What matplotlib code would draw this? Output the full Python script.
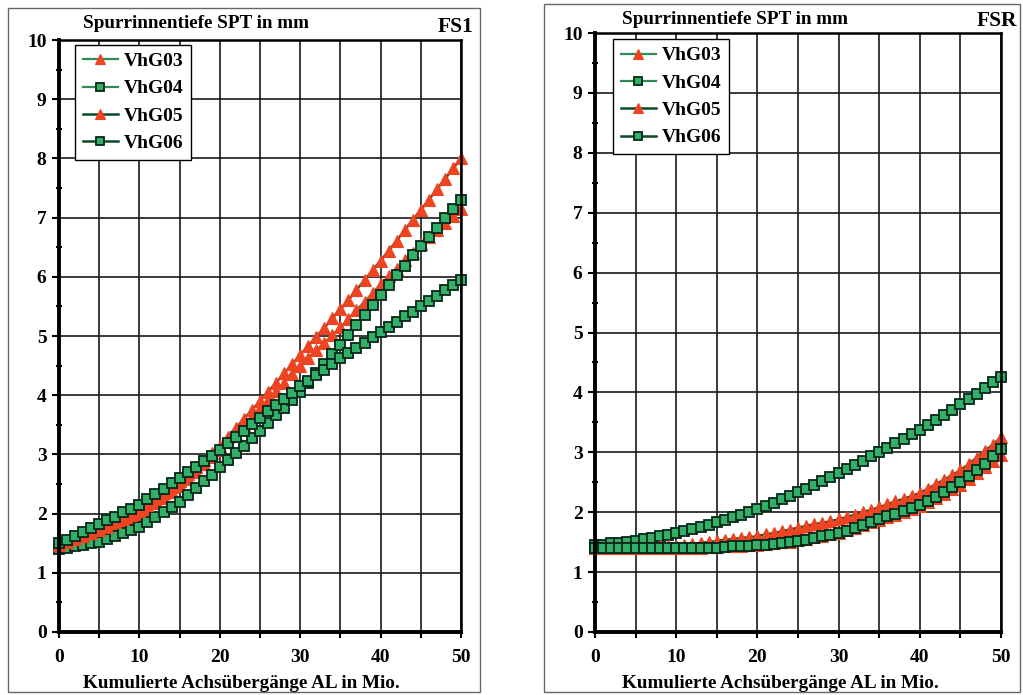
import matplotlib
matplotlib.use("Agg")
import matplotlib.pyplot as plt
from matplotlib.patches import Rectangle
from matplotlib.ticker import MultipleLocator

plt.rcParams['font.family'] = ['Liberation Serif', 'DejaVu Serif']
plt.rcParams['font.weight'] = 'bold'

# x values: cumulative axle loads (Mio.)
x_al = list(range(0, 51))

series_names = ["VhG03", "VhG04", "VhG05", "VhG06"]

# ---- Panel FS1 ----
fs1_vhg03 = [1.45, 1.50, 1.54, 1.59, 1.63, 1.68, 1.74, 1.80, 1.86, 1.92, 1.98,
             2.08, 2.18, 2.27, 2.37, 2.47, 2.59, 2.71, 2.83, 2.95, 3.07,
             3.21, 3.35, 3.50, 3.64, 3.78, 3.92, 4.07, 4.21, 4.36, 4.50,
             4.63, 4.76, 4.89, 5.02, 5.15, 5.29, 5.44, 5.58, 5.73, 5.87,
             6.01, 6.14, 6.28, 6.41, 6.55, 6.67, 6.79, 6.91, 7.03, 7.15]
fs1_vhg04 = [1.40, 1.42, 1.45, 1.47, 1.50, 1.52, 1.57, 1.62, 1.67, 1.72, 1.77,
             1.86, 1.94, 2.03, 2.11, 2.20, 2.32, 2.43, 2.55, 2.66, 2.78,
             2.90, 3.03, 3.15, 3.28, 3.40, 3.53, 3.66, 3.79, 3.92, 4.05,
             4.21, 4.37, 4.53, 4.69, 4.85, 5.02, 5.19, 5.36, 5.53, 5.70,
             5.86, 6.03, 6.19, 6.36, 6.52, 6.68, 6.83, 6.99, 7.14, 7.30]
fs1_vhg05 = [1.47, 1.52, 1.57, 1.62, 1.67, 1.72, 1.78, 1.85, 1.91, 1.98, 2.05,
             2.15, 2.25, 2.35, 2.45, 2.55, 2.67, 2.79, 2.91, 3.03, 3.15,
             3.30, 3.45, 3.60, 3.75, 3.90, 4.06, 4.21, 4.37, 4.52, 4.68,
             4.83, 4.99, 5.14, 5.30, 5.45, 5.61, 5.78, 5.94, 6.11, 6.27,
             6.44, 6.61, 6.79, 6.96, 7.13, 7.30, 7.48, 7.65, 7.83, 8.00]
fs1_vhg06 = [1.50, 1.56, 1.63, 1.69, 1.76, 1.82, 1.89, 1.95, 2.02, 2.08, 2.15,
             2.24, 2.33, 2.42, 2.51, 2.60, 2.70, 2.79, 2.89, 2.98, 3.08,
             3.19, 3.30, 3.40, 3.51, 3.62, 3.73, 3.83, 3.94, 4.04, 4.15,
             4.24, 4.34, 4.43, 4.53, 4.62, 4.71, 4.80, 4.89, 4.98, 5.07,
             5.16, 5.24, 5.33, 5.41, 5.50, 5.59, 5.68, 5.77, 5.86, 5.95]

# ---- Panel FSR ----
fsr_vhg03 = [1.41, 1.41, 1.41, 1.41, 1.41, 1.41, 1.41, 1.41, 1.40, 1.40, 1.40,
             1.40, 1.41, 1.41, 1.42, 1.42, 1.43, 1.43, 1.44, 1.45, 1.46,
             1.47, 1.48, 1.50, 1.51, 1.53, 1.56, 1.58, 1.61, 1.63, 1.66,
             1.70, 1.74, 1.79, 1.83, 1.87, 1.92, 1.96, 2.01, 2.05, 2.10,
             2.17, 2.24, 2.31, 2.38, 2.45, 2.55, 2.65, 2.75, 2.85, 2.95]
fsr_vhg04 = [1.45, 1.46, 1.48, 1.49, 1.51, 1.52, 1.55, 1.57, 1.60, 1.62, 1.65,
             1.69, 1.72, 1.76, 1.79, 1.83, 1.87, 1.92, 1.96, 2.01, 2.05,
             2.11, 2.16, 2.22, 2.27, 2.33, 2.39, 2.46, 2.52, 2.59, 2.65,
             2.72, 2.79, 2.86, 2.93, 3.00, 3.07, 3.15, 3.22, 3.30, 3.37,
             3.46, 3.54, 3.63, 3.71, 3.80, 3.89, 3.98, 4.08, 4.17, 4.26]
fsr_vhg05 = [1.42, 1.42, 1.42, 1.42, 1.42, 1.42, 1.42, 1.42, 1.43, 1.43, 1.44,
             1.46, 1.47, 1.49, 1.50, 1.52, 1.54, 1.55, 1.57, 1.58, 1.60,
             1.63, 1.65, 1.68, 1.71, 1.74, 1.77, 1.80, 1.82, 1.85, 1.88,
             1.92, 1.96, 2.00, 2.04, 2.08, 2.13, 2.18, 2.22, 2.27, 2.32,
             2.39, 2.47, 2.54, 2.62, 2.70, 2.80, 2.91, 3.02, 3.13, 3.25]
fsr_vhg06 = [1.40, 1.40, 1.40, 1.40, 1.40, 1.40, 1.40, 1.40, 1.40, 1.40, 1.40,
             1.40, 1.40, 1.41, 1.41, 1.41, 1.42, 1.43, 1.43, 1.44, 1.45,
             1.46, 1.47, 1.49, 1.50, 1.52, 1.54, 1.57, 1.60, 1.62, 1.65,
             1.69, 1.73, 1.78, 1.83, 1.88, 1.93, 1.97, 2.02, 2.07, 2.12,
             2.19, 2.26, 2.34, 2.42, 2.50, 2.60, 2.70, 2.81, 2.93, 3.05]

x_ticks = [0, 10, 20, 30, 40, 50]
y_ticks = [0, 1, 2, 3, 4, 5, 6, 7, 8, 9, 10]
y_title = "Spurrinnentiefe SPT in mm"
x_title = "Kumulierte Achsübergänge AL in Mio."

RED = "#ee4422"
GREEN_FACE = "#33b068"
LINE_LIGHT = "#2f8a55"
LINE_DARK = "#0b4a25"
SQ_EDGE = "#06261a"

styles = [
    dict(color=LINE_LIGHT, marker="^", mfc=RED, mec=RED, ms=8.5, lw=1.6, mew=0.8),
    dict(color=LINE_LIGHT, marker="s", mfc=GREEN_FACE, mec=SQ_EDGE, ms=7.0, lw=1.6, mew=1.3),
    dict(color=LINE_DARK, marker="^", mfc=RED, mec=RED, ms=8.5, lw=1.8, mew=0.8),
    dict(color=LINE_DARK, marker="s", mfc=GREEN_FACE, mec=SQ_EDGE, ms=7.0, lw=1.8, mew=1.3),
]

W, H = 1023, 695
fig = plt.figure(figsize=(W / 100, H / 100), dpi=100)
fig.patch.set_facecolor("white")

# panel frames
for (x0, y0, x1, y1) in [(8, 8, 480, 692), (544, 4, 1020, 692)]:
    fig.add_artist(Rectangle((x0 / W, 1 - y1 / H), (x1 - x0) / W, (y1 - y0) / H,
                             transform=fig.transFigure, fill=False,
                             edgecolor="#666666", lw=1.0))

panels = [
    dict(rect=(59, 40, 461, 632), data=[fs1_vhg03, fs1_vhg04, fs1_vhg05, fs1_vhg06],
         tag="FS1", tagpos=(473, 27), titlex=196, titley=24, xlabx=241, leg=(0.04, 0.992)),
    dict(rect=(595, 33, 1001, 632), data=[fsr_vhg03, fsr_vhg04, fsr_vhg05, fsr_vhg06],
         tag="FSR", tagpos=(1017, 21), titlex=735, titley=20, xlabx=780, leg=(0.044, 0.99)),
]

for p in panels:
    l, t, r, b = p["rect"]
    ax = fig.add_axes([l / W, 1 - b / H, (r - l) / W, (b - t) / H])
    for name, ys, st in zip(series_names, p["data"], styles):
        ax.plot(x_al, ys, label=name, clip_on=False, zorder=3, **st)
    ax.set_xlim(0, 50)
    ax.set_ylim(0, 10)
    ax.set_xticks(x_ticks)
    ax.set_yticks(y_ticks)
    ax.xaxis.set_minor_locator(MultipleLocator(5))
    ax.yaxis.set_minor_locator(MultipleLocator(0.5))
    ax.grid(True, which="major", color="#1a1a1a", lw=1.2)
    ax.grid(True, which="minor", axis="x", color="#1a1a1a", lw=1.2)
    ax.set_axisbelow(True)
    for side in ["left", "bottom"]:
        ax.spines[side].set_linewidth(2.8)
    for side in ["top", "right"]:
        ax.spines[side].set_linewidth(1.8)
    for s in ax.spines.values():
        s.set_color("black")
        s.set_zorder(4)
    ax.tick_params(axis="y", which="major", direction="out", length=5, width=1.5,
                   pad=4, labelsize=14)
    ax.tick_params(axis="y", which="minor", direction="inout", length=4, width=1.5)
    ax.tick_params(axis="x", which="both", direction="out", length=4, width=1.5,
                   pad=8, labelsize=14)
    for lab in ax.get_xticklabels() + ax.get_yticklabels():
        lab.set_fontweight("bold")
    leg = ax.legend(loc="upper left", bbox_to_anchor=p["leg"], fontsize=14,
                    frameon=True, fancybox=False, edgecolor="black", framealpha=1,
                    handlelength=1.8, handletextpad=0.3, labelspacing=0.5,
                    borderpad=0.4, borderaxespad=0.0, markerscale=0.9)
    leg.get_frame().set_linewidth(1.0)
    leg.set_zorder(5)
    for txt in leg.get_texts():
        txt.set_fontweight("bold")
    fig.text(p["titlex"] / W, 1 - p["titley"] / H, y_title, ha="center", va="center",
             fontsize=13.8, fontweight="bold")
    fig.text(p["tagpos"][0] / W, 1 - p["tagpos"][1] / H, p["tag"], ha="right", va="center",
             fontsize=15.5, fontweight="bold")
    fig.text(p["xlabx"] / W, 1 - 683 / H, x_title, ha="center", va="center",
             fontsize=13.8, fontweight="bold")

fig.savefig("out.png", dpi=100, facecolor="white")
